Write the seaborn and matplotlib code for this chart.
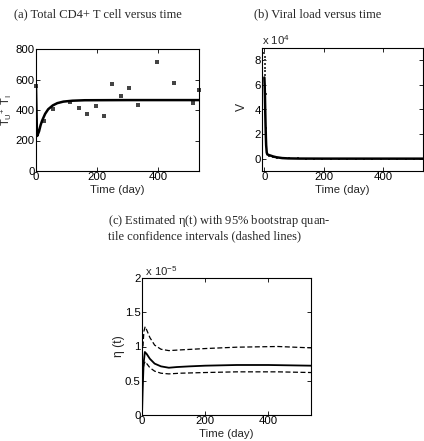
#!/usr/bin/env python3
"""
CD4+ T cells, viral load and estimated eta(t) versus time (three panels).
"""

import numpy as np
import matplotlib
matplotlib.use("Agg")
import matplotlib.pyplot as plt
import matplotlib.ticker as mticker
import seaborn as sns

# (a) total CD4+ T cells: observations and fitted curve
cd4_days = [0, 27, 57, 112, 140, 168, 196, 224, 251, 278, 306, 334, 396, 453, 514, 535]
cd4_obs = [555, 325, 405, 452, 415, 372, 428, 359, 570, 494, 547, 432, 716, 579, 443, 530]
cd4_fit_days = [0, 1, 2.5, 4, 10, 15, 20, 30, 40, 55, 70, 90, 120, 160, 300, 535]
cd4_fit = [555, 450, 300, 230, 260, 300, 330, 375, 405, 430, 445, 455, 461, 464, 465, 465]

# (b) viral load: observations and fitted curve
v_days = [0, 0.5, 1, 1.5, 2, 2.5, 3, 4, 5, 7, 10, 14, 28, 42, 56, 84, 112, 140, 168,
          196, 224, 252, 280, 308, 336, 364, 392, 420, 448, 476, 504, 532]
v_obs = [86000, 83000, 80000, 77000, 74000, 71000, 68000, 53000, 25000, 14000, 5000,
         2500, 1500, 800, 500, 300, 200, 150, 120, 100, 100, 100, 100, 100, 100, 100,
         100, 100, 100, 100, 100, 100]
v_fit_days = [0, 1, 2, 3, 4, 5, 6, 8, 10, 15, 20, 30, 40, 60, 80, 120, 200, 535]
v_fit = [66000, 60000, 50000, 38000, 27000, 18000, 11000, 5000, 3500, 3000, 2600,
         1800, 1200, 500, 250, 100, 50, 30]

# (c) estimated eta(t) with 95% bootstrap quantile bounds
eta_days = [0, 2, 5, 9, 15, 25, 40, 60, 85, 110, 150, 200, 300, 400, 535]
eta_est = [0, 0.35e-5, 0.75e-5, 0.92e-5, 0.89e-5, 0.82e-5, 0.75e-5, 0.71e-5, 0.69e-5,
           0.70e-5, 0.71e-5, 0.72e-5, 0.73e-5, 0.73e-5, 0.72e-5]
ci_days = [3, 6, 10, 15, 25, 40, 60, 85, 120, 200, 300, 430, 535]
eta_upper = [1.0e-5, 1.22e-5, 1.29e-5, 1.24e-5, 1.13e-5, 1.02e-5, 0.96e-5, 0.94e-5,
             0.95e-5, 0.97e-5, 0.99e-5, 1.0e-5, 0.98e-5]
eta_lower = [0.6e-5, 0.74e-5, 0.78e-5, 0.75e-5, 0.69e-5, 0.64e-5, 0.61e-5, 0.60e-5,
             0.61e-5, 0.62e-5, 0.63e-5, 0.63e-5, 0.62e-5]

sns.set_theme(style="ticks")
plt.rcParams['font.family'] = ['Liberation Sans', 'DejaVu Sans']
plt.rcParams['mathtext.default'] = 'regular'

W, H = 424, 441
fig = plt.figure(figsize=(W / 100, H / 100), dpi=100)
FS = 8.2


def box(left, top, right, bottom):
    return [left / W, 1 - bottom / H, (right - left) / W, (bottom - top) / H]


def style(ax, xlab_y):
    for s in ax.spines.values():
        s.set_visible(True)
        s.set_color('black')
        s.set_linewidth(0.8)
    ax.tick_params(direction='in', length=3, width=0.6, labelsize=FS, pad=1,
                   top=True, right=True, colors='black')
    ax.set_xticks([0, 200, 400])
    ax.set_xlabel("Time (day)", fontsize=FS, va='top')
    ax.xaxis.set_label_coords(0.5, xlab_y)


title_font = dict(family=['Liberation Serif', 'DejaVu Serif'], fontsize=9)

# panel (a)
ax1 = fig.add_axes(box(36, 49, 199, 171))
sns.lineplot(x=cd4_fit_days, y=cd4_fit, ax=ax1, color='black', linewidth=1.8,
             estimator=None, sort=False)
sns.scatterplot(x=cd4_days, y=cd4_obs, ax=ax1, color='#444444', s=5, marker='s',
                linewidth=0, clip_on=False)
ax1.set_xlim(0, 535)
ax1.set_ylim(0, 800)
ax1.set_yticks([0, 200, 400, 600, 800])
style(ax1, -0.115)
ax1.set_ylabel("$T_U{}^{+}\\ T_I$", fontsize=8)
ax1.yaxis.set_label_coords(-0.13, 0.5)
fig.text(98 / W, 1 - 14 / H, "(a) Total CD4+ T cell versus time", ha='center',
         va='center', **title_font)

# panel (b)
ax2 = fig.add_axes(box(262, 48, 423, 171))
sns.lineplot(x=v_fit_days, y=v_fit, ax=ax2, color='black', linewidth=1.8,
             estimator=None, sort=False)
sns.scatterplot(x=v_days, y=v_obs, ax=ax2, color='#444444', s=4, marker='s',
                linewidth=0)
ax2.set_xlim(-8, 535)
ax2.set_ylim(-10000, 90000)
ax2.set_yticks([0, 20000, 40000, 60000, 80000])
ax2.yaxis.set_major_formatter(mticker.FuncFormatter(lambda v, p: f"{v / 1e4:g}"))
style(ax2, -0.115)
ax2.set_ylabel("V", fontsize=FS + 0.5)
ax2.yaxis.set_label_coords(-0.085, 0.52)
ax2.text(0, 1.005, "x 10$^{4}$", transform=ax2.transAxes, fontsize=FS,
         ha='left', va='bottom')
fig.text(318 / W, 1 - 14 / H, "(b) Viral load versus time", ha='center',
         va='center', **title_font)

# panel (c)
ax3 = fig.add_axes(box(142, 278, 311, 415))
sns.lineplot(x=eta_days, y=eta_est, ax=ax3, color='black', linewidth=1.3,
             estimator=None, sort=False)
sns.lineplot(x=ci_days, y=eta_upper, ax=ax3, color='black', linewidth=0.9,
             linestyle=(0, (4, 2)), estimator=None, sort=False)
sns.lineplot(x=ci_days, y=eta_lower, ax=ax3, color='black', linewidth=0.9,
             linestyle=(0, (4, 2)), estimator=None, sort=False)
ax3.set_xlim(0, 535)
ax3.set_ylim(0, 2e-5)
ax3.set_yticks([0, 0.5e-5, 1e-5, 1.5e-5, 2e-5])
ax3.yaxis.set_major_formatter(mticker.FuncFormatter(lambda v, p: f"{v / 1e-5:g}"))
style(ax3, -0.1)
ax3.set_ylabel("η (t)", fontsize=FS + 0.5)
ax3.yaxis.set_label_coords(-0.1, 0.5)
ax3.text(0, 1.0, " x 10$^{-5}$", transform=ax3.transAxes, fontsize=FS,
         ha='left', va='bottom')
fig.text(108 / W, 1 - 221 / H, "(c) Estimated η($t$) with 95% bootstrap quan-",
         ha='left', va='center', **title_font)
fig.text(108 / W, 1 - 236 / H, "tile confidence intervals (dashed lines)",
         ha='left', va='center', **title_font)

fig.savefig("out.png", dpi=100)
plt.close(fig)
